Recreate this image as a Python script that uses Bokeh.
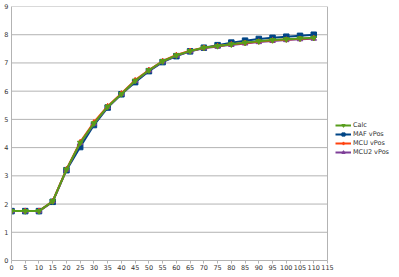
from bokeh.plotting import figure
from bokeh.models import Legend, LegendItem, FixedTicker, Range1d
from bokeh.embed import file_html
from bokeh.resources import INLINE

x = [0, 5, 10, 15, 20, 25, 30, 35, 40, 45, 50, 55, 60, 65, 70, 75, 80, 85, 90, 95, 100, 105, 110]
calc = [1.75, 1.75, 1.75, 2.1, 3.22, 4.17, 4.86, 5.45, 5.9, 6.37, 6.74, 7.06, 7.27, 7.42, 7.54, 7.6, 7.66, 7.72, 7.77, 7.81, 7.84, 7.87, 7.89]
maf = [1.75, 1.75, 1.75, 2.08, 3.2, 4.02, 4.8, 5.42, 5.89, 6.32, 6.71, 7.03, 7.24, 7.41, 7.54, 7.63, 7.72, 7.79, 7.85, 7.89, 7.93, 7.96, 8.0]
mcu = [1.75, 1.75, 1.75, 2.1, 3.23, 4.2, 4.9, 5.47, 5.92, 6.39, 6.75, 7.07, 7.28, 7.43, 7.54, 7.6, 7.66, 7.71, 7.76, 7.8, 7.83, 7.86, 7.88]
mcu2 = [1.75, 1.75, 1.75, 2.1, 3.22, 4.16, 4.85, 5.44, 5.9, 6.36, 6.73, 7.05, 7.26, 7.41, 7.52, 7.58, 7.64, 7.69, 7.74, 7.78, 7.81, 7.84, 7.86]
names = ["Calc", "MAF vPos", "MCU vPos", "MCU2 vPos"]
x_ticks = list(range(0, 120, 5))
y_ticks = list(range(0, 10))
x_max = 115
y_max = 9

colors = {"Calc": "#579d1c", "MAF vPos": "#004586", "MCU vPos": "#ff420e", "MCU2 vPos": "#7e3f98"}
markers = {"Calc": "inverted_triangle", "MAF vPos": "square", "MCU vPos": "diamond", "MCU2 vPos": "triangle"}
series = {"Calc": calc, "MAF vPos": maf, "MCU vPos": mcu, "MCU2 vPos": mcu2}

# frame spans the whole right side so the legend (inside the frame) is not clipped;
# the plot area itself ends at x = 115
p = figure(width=399, height=277, output_backend="svg", toolbar_location=None,
           x_range=Range1d(0, x_max * 388 / 316), y_range=Range1d(0, y_max),
           min_border_left=11, min_border_top=6, min_border_bottom=17, min_border_right=0)
p.background_fill_color = "white"
p.border_fill_color = "white"
p.outline_line_color = None
p.xgrid.visible = False
p.ygrid.visible = False

# horizontal grid lines and right border of the plot area
p.segment(x0=0, x1=x_max, y0=y_ticks, y1=y_ticks, line_color="#b3b3b3", line_width=1)
p.segment(x0=x_max, x1=x_max, y0=0, y1=y_max, line_color="#b3b3b3", line_width=1)

for ax, ticks in ((p.xaxis, x_ticks), (p.yaxis, y_ticks)):
    ax.ticker = FixedTicker(ticks=ticks)
    ax.axis_line_color = "#b3b3b3"
    ax.major_tick_line_color = "#b3b3b3"
    ax.minor_tick_line_color = None
    ax.major_label_text_font = "DejaVu Sans"
    ax.major_label_text_font_size = "6.5px"
    ax.major_label_text_color = "#333333"
    ax.major_tick_in = 0
p.xaxis.bounds = (0, x_max)
p.yaxis.major_tick_out = 0
p.yaxis.major_label_standoff = 3
p.xaxis.major_tick_out = 3
p.xaxis.major_label_standoff = 1

renderers = {}
for name in ["MAF vPos", "MCU2 vPos", "MCU vPos", "Calc"]:
    c = colors[name]
    l = p.line(x, series[name], line_color=c, line_width=2)
    m = p.scatter(x, series[name], marker=markers[name], size=5.5, fill_color=c, line_color=c)
    renderers[name] = [l, m]

items = [LegendItem(label=n, renderers=renderers[n]) for n in names]
legend = Legend(items=items, location=(324, 104), label_text_font="DejaVu Sans",
                label_text_font_size="6.5px", label_text_color="#333333",
                glyph_width=16, glyph_height=8, label_height=8, spacing=1,
                padding=2, margin=0, border_line_color=None, label_standoff=2,
                background_fill_alpha=0)
p.add_layout(legend)

open("out.html", "w").write(file_html(p, INLINE))
